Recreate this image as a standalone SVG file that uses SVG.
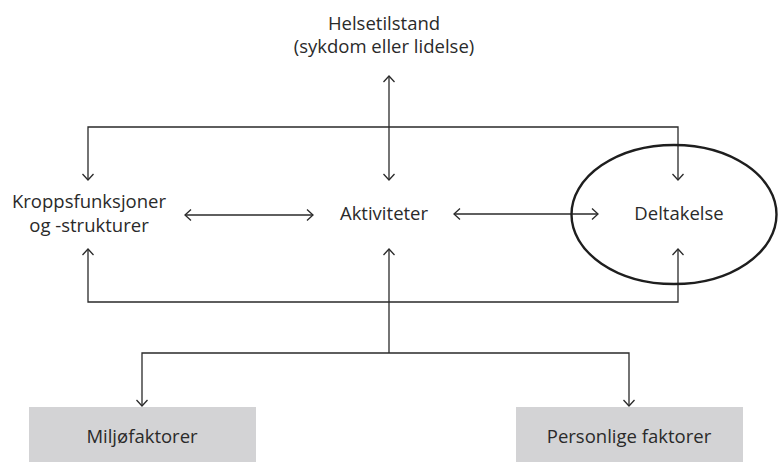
<svg xmlns="http://www.w3.org/2000/svg" width="778" height="462" viewBox="0 0 778 462">
<defs>
<marker id="ah" viewBox="-8 -7 10 14" refX="0" refY="0" markerWidth="10" markerHeight="14" markerUnits="userSpaceOnUse" orient="auto-start-reverse">
<path d="M-6,-5.5 L0,0 L-6,5.5" fill="none" stroke="#2a2a2a" stroke-width="1.3"/>
</marker>
</defs>
<style>
text { font-family: "Open Sans", "Noto Sans", "DejaVu Sans", sans-serif; font-size: 18.5px; fill: #2a2a2a; text-anchor: middle; }
.c { fill: none; stroke: #2a2a2a; stroke-width: 1.3; }
.a { marker-end: url(#ah); }
.b { marker-start: url(#ah); marker-end: url(#ah); }
.box { fill: #d3d3d5; }
</style>
<g id="connectors">
<line class="c b" x1="389" y1="76" x2="389" y2="180"/>
<polyline class="c a" points="389,127 88,127 88,180"/>
<polyline class="c a" points="389,127 678,127 678,180"/>
<line class="c b" x1="185" y1="215" x2="313" y2="215"/>
<line class="c b" x1="454" y1="214" x2="598" y2="214"/>
<line class="c a" x1="389" y1="353" x2="389" y2="249"/>
<polyline class="c a" points="389,302 88,302 88,249"/>
<polyline class="c a" points="389,302 678,302 678,249"/>
<polyline class="c a" points="389,353 142,353 142,406"/>
<polyline class="c a" points="389,353 629,353 629,406"/>
</g>
<g id="helsetilstand">
<text x="384" y="30">Helsetilstand</text>
<text x="384" y="53">(sykdom eller lidelse)</text>
</g>
<g id="kroppsfunksjoner">
<text x="89" y="208">Kroppsfunksjoner</text>
<text x="89" y="232">og -strukturer</text>
</g>
<g id="aktiviteter">
<text x="384" y="220">Aktiviteter</text>
</g>
<g id="deltakelse">
<ellipse cx="674" cy="214.5" rx="102.5" ry="69.5" fill="none" stroke="#1e1e1e" stroke-width="2.4"/>
<text x="679" y="220">Deltakelse</text>
</g>
<g id="miljofaktorer">
<rect class="box" x="29" y="407" width="227" height="56"/>
<text x="142" y="443">Miljøfaktorer</text>
</g>
<g id="personlige">
<rect class="box" x="516" y="407" width="227" height="56"/>
<text x="629" y="443">Personlige faktorer</text>
</g>
</svg>
